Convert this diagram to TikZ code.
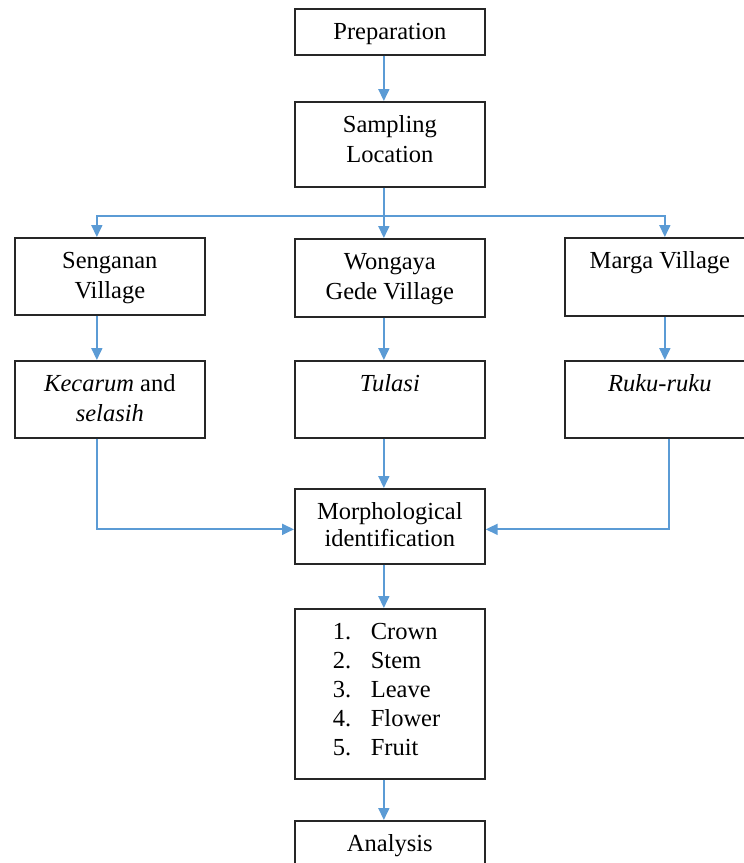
\documentclass[tikz,border=0pt]{standalone}
\usepackage{fontspec}
\setmainfont{Liberation Serif}
\usetikzlibrary{arrows.meta}
\definecolor{flowblue}{RGB}{91,155,213}
\newcommand{\boxtext}[3][30pt]{\parbox[c][#2][t]{190pt}{\baselineskip=#1\centering\rule{0pt}{31pt}#3}}
\newcommand{\listitem}[2]{\hspace*{38pt}\makebox[38pt][l]{#1}#2}

\begin{document}
\begin{tikzpicture}[x=1pt,y=-1pt,
  box/.style={draw=black!85,line width=1.7pt,inner sep=0pt,anchor=north west,
    font=\fontsize{24.5pt}{30pt}\selectfont},
  arr/.style={draw=flowblue,line width=1.8pt,-{Triangle[length=12pt,width=11pt]}}]
\clip (0,0) rectangle (744,863);
% Top column
\node[box] (prep) at (294,8) {\boxtext{46pt}{Preparation}};
\node[box] (samp) at (294,101) {\boxtext{85pt}{Sampling\\Location}};
% Villages
\node[box] (seng) at (14,237) {\boxtext{77pt}{Senganan\\Village}};
\node[box] (wong) at (294,238) {\boxtext{78pt}{Wongaya\\Gede Village}};
\node[box] (marga) at (564,237) {\boxtext{78pt}{Marga Village}};
% Plants
\node[box] (kec) at (14,360) {\boxtext{77pt}{\textit{Kecarum} and\\\textit{selasih}}};
\node[box] (tul) at (294,360) {\boxtext{77pt}{\textit{Tulasi}}};
\node[box] (ruku) at (564,360) {\boxtext{77pt}{\textit{Ruku-ruku}}};
% Identification
\node[box] (morph) at (294,488) {\boxtext[27pt]{75pt}{Morphological\\identification}};
\node[box] (parts) at (294,608) {\parbox[c][170pt][t]{190pt}{\baselineskip=29pt\raggedright
  \rule{0pt}{31pt}\listitem{1.}{Crown}\\\listitem{2.}{Stem}\\\listitem{3.}{Leave}\\
  \listitem{4.}{Flower}\\\listitem{5.}{Fruit}}};
\node[box] (anal) at (294,820) {\boxtext{46pt}{Analysis}};
% Connectors
\coordinate (split) at (383,216);
\draw[arr] ([xshift=-6pt]prep.south) -- ([xshift=-6pt]samp.north);
\draw[arr] ([xshift=-6pt]samp.south) -- ([xshift=-6pt]wong.north);
\draw[arr] (split) -| ([xshift=-13pt]seng.north);
\draw[arr] (split) -| ([xshift=5pt]marga.north);
\draw[arr] ([xshift=-13pt]seng.south) -- ([xshift=-13pt]kec.north);
\draw[arr] ([xshift=-6pt]wong.south) -- ([xshift=-6pt]tul.north);
\draw[arr] ([xshift=5pt]marga.south) -- ([xshift=5pt]ruku.north);
\draw[arr] ([xshift=-6pt]tul.south) -- ([xshift=-6pt]morph.north);
\draw[arr] ([xshift=-13pt]kec.south) |- ([yshift=-3pt]morph.west);
\draw[arr] ([xshift=9pt]ruku.south) |- ([yshift=-3pt]morph.east);
\draw[arr] ([xshift=-6pt]morph.south) -- ([xshift=-6pt]parts.north);
\draw[arr] ([xshift=-6pt]parts.south) -- ([xshift=-6pt]anal.north);
\end{tikzpicture}
\end{document}
